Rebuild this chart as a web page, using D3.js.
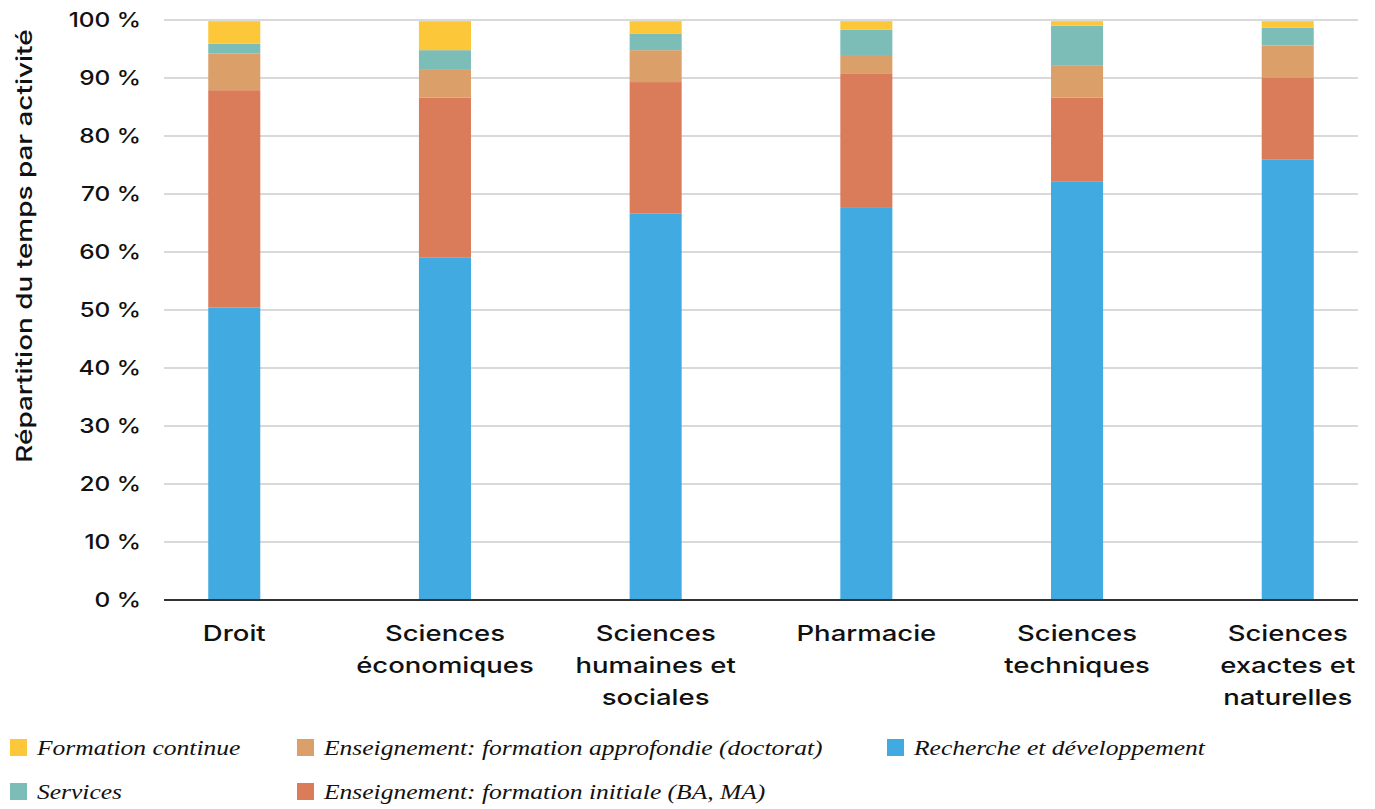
<!DOCTYPE html>
<html><head><meta charset="utf-8">
<script src="https://cdn.jsdelivr.net/npm/d3@7"></script>
<style>body{margin:0;background:#fff}svg{display:block}</style>
</head><body>
<svg id="c" width="1375" height="809"></svg>
<script>
const categories = [["Droit"],["Sciences","économiques"],["Sciences","humaines et","sociales"],["Pharmacie"],["Sciences","techniques"],["Sciences","exactes et","naturelles"]];
const seriesNames = ["Recherche et développement","Enseignement: formation initiale (BA, MA)","Enseignement: formation approfondie (doctorat)","Services","Formation continue"];
const rechercheDev   = [50.4, 59.0, 66.6, 67.6, 72.1, 75.9];
const formInitiale   = [37.5, 27.6, 22.7, 23.1, 14.5, 14.1];
const formDoctorat   = [6.3, 4.8, 5.5, 3.1, 5.5, 5.6];
const services       = [1.7, 3.4, 2.8, 4.5, 6.9, 3.1];
const formContinue   = [3.9, 5.0, 2.2, 1.5, 0.8, 1.1];
const yTicks = [0,10,20,30,40,50,60,70,80,90,100];
const colors = ["#41AAE1","#DA7C5A","#DBA06A","#7DBDB8","#FDC73A"];
const legendOrder = [[4,3],[2,1],[0]];

const seriesVals = [rechercheDev, formInitiale, formDoctorat, services, formContinue];
const rows = categories.map((c,i)=>{const o={key:i};seriesVals.forEach((s,j)=>o["s"+j]=s[i]);return o;});
const keys = seriesVals.map((s,j)=>"s"+j);
const stack = d3.stack().keys(keys)(rows);

const SX = 1.22;
const svg = d3.select("#c");
const x = d3.scaleBand().domain(d3.range(categories.length)).range([164,1358]).paddingInner(0.753).paddingOuter(0.21);
const y = d3.scaleLinear().domain([0,100]).range([600,20]);

svg.append("g").selectAll("line").data(yTicks.filter(t=>t>0)).join("line")
  .attr("x1",164).attr("x2",1358).attr("y1",d=>y(d)).attr("y2",d=>y(d))
  .attr("stroke","#d9d9d9").attr("stroke-width",2);

svg.append("g").selectAll("text").data(yTicks).join("text")
  .attr("transform",d=>`translate(141,${y(d)+7}) scale(${SX},1)`).attr("text-anchor","end")
  .attr("font-family","Inter").attr("font-size",20).attr("font-weight",500).attr("fill","#111")
  .text(d=>d+" %");

svg.append("g").selectAll("g").data(stack).join("g").attr("fill",(d,i)=>colors[i])
  .selectAll("rect").data(d=>d).join("rect")
  .attr("x",d=>x(d.data.key)).attr("width",x.bandwidth())
  .attr("y",d=>y(d[1])).attr("height",d=>y(d[0])-y(d[1]));

svg.append("line").attr("x1",164).attr("x2",1358).attr("y1",600).attr("y2",600).attr("stroke","#333").attr("stroke-width",2);

const cl = svg.append("g").selectAll("text").data(categories).join("text")
  .attr("text-anchor","middle").attr("font-family","Inter").attr("font-size",22).attr("font-weight",500).attr("fill","#111")
  .attr("transform",(d,i)=>`translate(${x(i)+x.bandwidth()/2},641) scale(1.25,1)`);
cl.selectAll("tspan").data(d=>d).join("tspan").attr("x",0).attr("dy",(d,i)=>i?32:0).text(d=>d);

svg.append("text").attr("transform",`translate(32,246) rotate(-90) scale(1.27,1)`).attr("text-anchor","middle")
  .attr("font-family","Inter").attr("font-size",22).attr("font-weight",500).attr("fill","#111")
  .text("Répartition du temps par activité");

const colX = [10,297,887];
legendOrder.forEach((col,ci)=>col.forEach((si,ri)=>{
  const g = svg.append("g").attr("transform",`translate(${colX[ci]},${739+ri*44})`);
  g.append("rect").attr("width",17).attr("height",17).attr("fill",colors[si]);
  g.append("text").attr("transform",`translate(27,16) scale(1.16,1)`).attr("font-family","Liberation Serif").attr("font-style","italic")
    .attr("font-size",22).attr("fill","#111").text(seriesNames[si]);
}));
</script>
</body></html>
